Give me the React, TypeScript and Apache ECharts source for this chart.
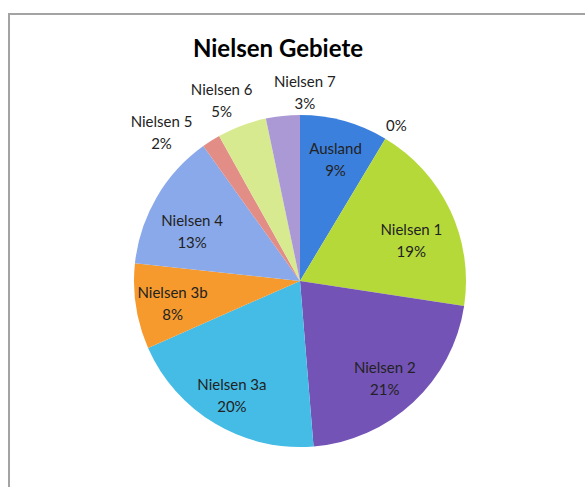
import React, { useEffect, useRef } from "react";
import * as echarts from "echarts";

const titleText = "Nielsen Gebiete";
const categories = ["Ausland", "", "Nielsen 1", "Nielsen 2", "Nielsen 3a", "Nielsen 3b", "Nielsen 4", "Nielsen 5", "Nielsen 6", "Nielsen 7"];
const values = [8.6, 0, 18.8, 21.3, 19.7, 8.3, 13.4, 1.8, 4.8, 3.3];
const colors = ["#3c80dd", "#c0504d", "#b6d93a", "#7453b6", "#45bce5", "#f79a2e", "#8aa9ea", "#e28d86", "#d8ea90", "#ab99d6"];
// which labels sit outside the pie
const outsideLabel = [false, true, false, false, false, false, false, true, true, true];
// small nudges for the labels (dx, dy), mimicking the "best fit" placement
const labelNudge: Record<number, [number, number]> = {
  0: [0, 6],
  1: [-4, 11],
  2: [-9, 16],
  3: [-6, 0],
  5: [4, 2],
  6: [7, 17],
  7: [-34, 16],
  8: [-10, 2],
  9: [25, 5],
};

const FONT = "Lato, 'Open Sans', sans-serif";

export default function App() {
  const ref = useRef<HTMLDivElement>(null);
  useEffect(() => {
    if (!ref.current) return;
    const chart = echarts.init(ref.current, undefined, { renderer: "svg" });
    const data = categories.map((name, i) => ({
      name,
      value: values[i],
      itemStyle: { color: colors[i] },
    }));
    const transparentData = categories.map((name, i) => ({
      name,
      value: values[i],
      itemStyle: { color: "rgba(0,0,0,0)" },
    }));
    const fmt = (wantOutside: boolean) => (p: any) => {
      if (outsideLabel[p.dataIndex] !== wantOutside) return "";
      return p.name ? `${p.name}\n${p.percent}%` : `${p.percent}%`;
    };
    const nudge = (p: any) => {
      const n = labelNudge[p.dataIndex];
      return n ? { dx: n[0], dy: n[1] } : {};
    };
    const cx = 300;
    const cy = 281;
    const r = 166;
    const labelStyle = {
      color: "#222",
      fontFamily: FONT,
      fontSize: 15,
      lineHeight: 22,
      align: "center" as const,
    };
    chart.setOption({
      animation: false,
      backgroundColor: "#fff",
      graphic: [
        {
          type: "rect",
          shape: { x: 9, y: 14, width: 700, height: 600 },
          style: { fill: "none", stroke: "#a3a3a3", lineWidth: 2 },
          silent: true,
        },
        {
          type: "text",
          style: {
            text: titleText,
            x: 278,
            y: 47,
            textAlign: "center",
            textVerticalAlign: "middle",
            font: `bold 24px ${FONT}`,
            fill: "#000",
          },
        },
      ],
      series: [
        {
          type: "pie",
          center: [cx, cy],
          radius: [0, r],
          startAngle: 90,
          clockwise: true,
          percentPrecision: 0,
          silent: true,
          label: { show: false },
          labelLine: { show: false },
          itemStyle: { borderWidth: 0 },
          data,
        },
        {
          type: "pie",
          center: [cx, cy],
          radius: [94, r],
          startAngle: 90,
          clockwise: true,
          percentPrecision: 0,
          silent: true,
          avoidLabelOverlap: false,
          label: { show: true, position: "inside", formatter: fmt(false), ...labelStyle },
          labelLine: { show: false },
          labelLayout: nudge,
          data: transparentData,
        },
        {
          type: "pie",
          center: [cx, cy],
          radius: [170, 214],
          startAngle: 90,
          clockwise: true,
          percentPrecision: 0,
          silent: true,
          avoidLabelOverlap: false,
          label: { show: true, position: "inside", formatter: fmt(true), ...labelStyle },
          labelLine: { show: false },
          labelLayout: nudge,
          data: transparentData,
        },
      ],
    });
    return () => chart.dispose();
  }, []);
  return (
    <div
      ref={ref}
      style={{ position: "fixed", left: 0, top: 0, width: 585, height: 487 }}
    />
  );
}
